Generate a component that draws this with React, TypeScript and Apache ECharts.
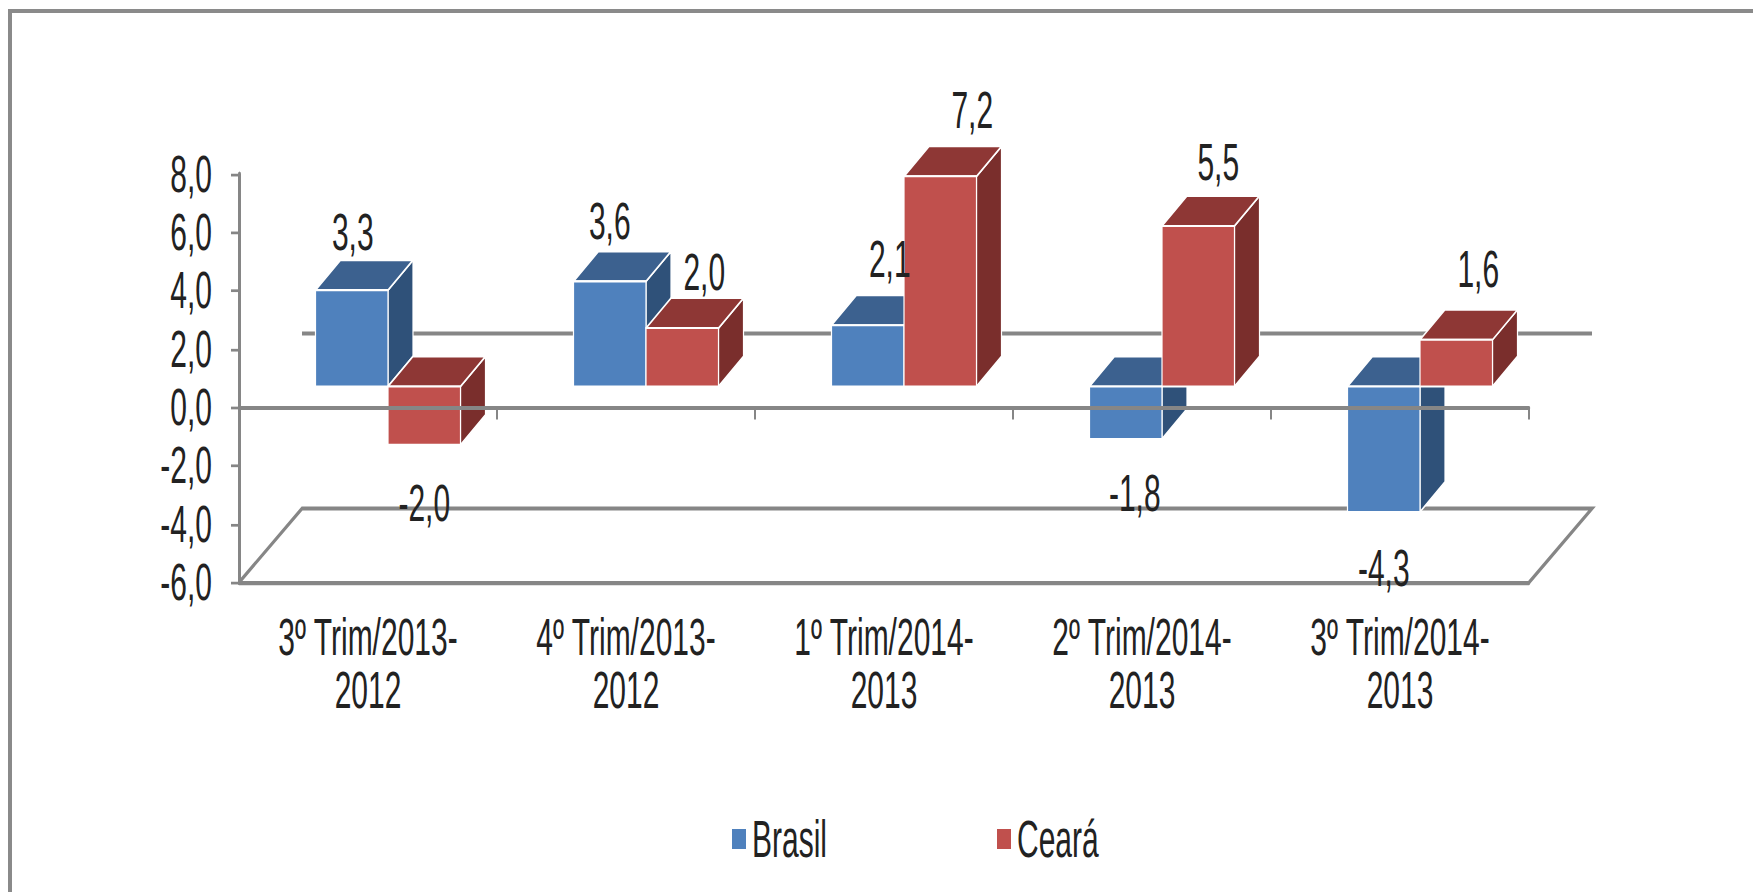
import React, { useEffect, useRef } from "react";
import * as echarts from "echarts";

const categories = [
  "3º Trim/2013-\n2012",
  "4º Trim/2013-\n2012",
  "1º Trim/2014-\n2013",
  "2º Trim/2014-\n2013",
  "3º Trim/2014-\n2013",
];
const brasil = [3.3, 3.6, 2.1, -1.8, -4.3];
const ceara = [-2.0, 2.0, 7.2, 5.5, 1.6];

// The reference is a vertically stretched picture; the chart is drawn squat and stretched the same way.
const STRETCH = 1.7;
const W = 1753;
const H = 892 / STRETCH;
const FONT = '"Liberation Sans Narrow", "Liberation Sans", sans-serif';
const FONT_SIZE = 30;
const TEXT = "#222222";
const AXIS = "#868686";

const py = (v: number) => v / STRETCH;
const BAR_W = 72.5;
const GROUP_DX = 20;
const BASE_DY = py(-21);
const DEPTH_X = 25;
const DEPTH_Y = py(30);
const FLOOR_X = 63;
const FLOOR_Y = py(74);

const brasilColors = { front: "#4F81BD", top: "#3C618F", side: "#2F5179" };
const cearaColors = { front: "#C0504D", top: "#8E3735", side: "#7A2E2C" };
// label centre relative to the bar's front face centre and value end, in page pixels
const brasilNudge = [[1, -58], [0, -60], [22, -66], [9, 54], [0, 56]];
const cearaNudge = [[0, 59], [22, -56], [32, -66], [20, -64], [22, -70]];

const fmt = (v: number) => v.toFixed(1).replace(".", ",");

function barRenderer(colors: typeof brasilColors, side: number) {
  return (_: any, api: any) => {
    const cat = api.value(0);
    const val = api.value(1);
    const zero = api.coord([cat, 0]);
    const end = api.coord([cat, val]);
    const base = zero[1] + BASE_DY;
    const valY = end[1] + BASE_DY;
    const top = Math.min(base, valY);
    const bot = Math.max(base, valY);
    const x0 = zero[0] + GROUP_DX + (side < 0 ? -BAR_W : 0);
    const x1 = x0 + BAR_W;
    const edge = { stroke: "#ffffff", lineWidth: 1.2, lineJoin: "round" };
    return {
      type: "group",
      children: [
        {
          type: "polygon",
          shape: { points: [[x1, top], [x1 + DEPTH_X, top - DEPTH_Y], [x1 + DEPTH_X, bot - DEPTH_Y], [x1, bot]] },
          style: { fill: colors.side, ...edge },
        },
        {
          type: "polygon",
          shape: { points: [[x0, top], [x0 + DEPTH_X, top - DEPTH_Y], [x1 + DEPTH_X, top - DEPTH_Y], [x1, top]] },
          style: { fill: colors.top, ...edge },
        },
        {
          type: "rect",
          shape: { x: x0, y: top, width: BAR_W, height: bot - top },
          style: { fill: colors.front, ...edge },
        },
      ],
    };
  };
}

function labelRenderer(side: number, nudges: number[][]) {
  return (_: any, api: any) => {
    const cat = api.value(0);
    const val = api.value(1);
    const zero = api.coord([cat, 0]);
    const end = api.coord([cat, val]);
    const x0 = zero[0] + GROUP_DX + (side < 0 ? -BAR_W : 0);
    const [nx, ny] = nudges[cat];
    return {
      type: "text",
      x: x0 + BAR_W / 2 + nx,
      y: end[1] + BASE_DY + py(ny),
      style: {
        text: fmt(val),
        fill: TEXT,
        font: `${FONT_SIZE}px ${FONT}`,
        align: "center",
        verticalAlign: "middle",
      },
    };
  };
}

function planeRenderer(params: any, api: any) {
  const r = params.coordSys;
  const left = r.x;
  const right = r.x + r.width;
  const floorY = api.coord([0, -6])[1];
  const wallY = api.coord([0, 0])[1] - FLOOR_Y;
  const line = { stroke: AXIS, lineWidth: 2.4, fill: "none" };
  return {
    type: "group",
    children: [
      {
        type: "polyline",
        shape: {
          points: [
            [left, floorY],
            [left + FLOOR_X, floorY - FLOOR_Y],
            [right + FLOOR_X, floorY - FLOOR_Y],
            [right, floorY],
          ],
        },
        style: line,
      },
      {
        type: "line",
        shape: { x1: left + FLOOR_X, y1: wallY, x2: right + FLOOR_X, y2: wallY },
        style: line,
      },
    ],
  };
}

export default function App() {
  const ref = useRef<HTMLDivElement>(null);
  useEffect(() => {
    const chart = echarts.init(ref.current!, null, { renderer: "svg" });
    const toData = (a: number[]) => a.map((v, i) => [i, v]);
    const labelStyle = { color: TEXT, fontFamily: FONT, fontSize: FONT_SIZE };
    chart.setOption({
      animation: false,
      backgroundColor: "#ffffff",
      textStyle: { fontFamily: FONT },
      grid: { left: 239, width: 1290, top: py(174), height: py(408.5) },
      legend: {
        left: 727,
        top: py(805),
        data: ["Brasil", "Ceará"],
        icon: "rect",
        itemWidth: 14,
        itemHeight: py(20),
        itemGap: 170,
        textStyle: { ...labelStyle, padding: [0, 0, 0, 1] },
      },
      xAxis: [
        {
          type: "category",
          data: categories,
          position: "top",
          z: 6,
          axisLine: { onZero: true, lineStyle: { color: AXIS, width: 2.4 } },
          axisTick: { show: true, inside: true, length: py(12), lineStyle: { color: AXIS, width: 2 } },
          axisLabel: { show: false },
          splitLine: { show: false },
        },
        {
          type: "category",
          data: categories,
          position: "bottom",
          z: 1,
          axisLine: { onZero: false, lineStyle: { color: AXIS, width: 2.4 } },
          axisTick: { show: false },
          axisLabel: { ...labelStyle, interval: 0, margin: py(28), lineHeight: py(53) },
          splitLine: { show: false },
        },
      ],
      yAxis: {
        type: "value",
        min: -6,
        max: 8,
        interval: 2,
        z: 1,
        axisLine: { show: true, onZero: false, lineStyle: { color: AXIS, width: 3 } },
        axisTick: { show: true, length: 8, lineStyle: { color: AXIS, width: 1.6 } },
        axisLabel: { ...labelStyle, margin: 27, formatter: (v: number) => fmt(v) },
        splitLine: { show: false },
      },
      series: [
        {
          id: "planes",
          type: "custom",
          coordinateSystem: "cartesian2d",
          xAxisIndex: 1,
          z: 0,
          silent: true,
          data: [[0, 0]],
          renderItem: planeRenderer,
        },
        {
          name: "Brasil",
          type: "custom",
          coordinateSystem: "cartesian2d",
          xAxisIndex: 1,
          z: 2,
          itemStyle: { color: brasilColors.front },
          encode: { x: 0, y: 1 },
          data: toData(brasil),
          renderItem: barRenderer(brasilColors, -1),
        },
        {
          name: "Ceará",
          type: "custom",
          coordinateSystem: "cartesian2d",
          xAxisIndex: 1,
          z: 3,
          itemStyle: { color: cearaColors.front },
          encode: { x: 0, y: 1 },
          data: toData(ceara),
          renderItem: barRenderer(cearaColors, 1),
        },
        {
          id: "brasil-labels",
          type: "custom",
          coordinateSystem: "cartesian2d",
          xAxisIndex: 1,
          z: 8,
          silent: true,
          data: toData(brasil),
          renderItem: labelRenderer(-1, brasilNudge),
        },
        {
          id: "ceara-labels",
          type: "custom",
          coordinateSystem: "cartesian2d",
          xAxisIndex: 1,
          z: 8,
          silent: true,
          data: toData(ceara),
          renderItem: labelRenderer(1, cearaNudge),
        },
      ],
    });
    return () => chart.dispose();
  }, []);
  return (
    <div style={{ position: "fixed", left: 0, top: 0, width: W, height: 892, overflow: "hidden", background: "#fff" }}>
      <div
        ref={ref}
        style={{ width: W, height: H, transform: `scaleY(${STRETCH})`, transformOrigin: "0 0" }}
      />
      <div
        style={{
          position: "absolute",
          left: 8,
          top: 9,
          width: 1753,
          height: 900,
          borderLeft: "4px solid #8a8a8a",
          borderTop: "4px solid #8a8a8a",
          boxSizing: "border-box",
        }}
      />
    </div>
  );
}
